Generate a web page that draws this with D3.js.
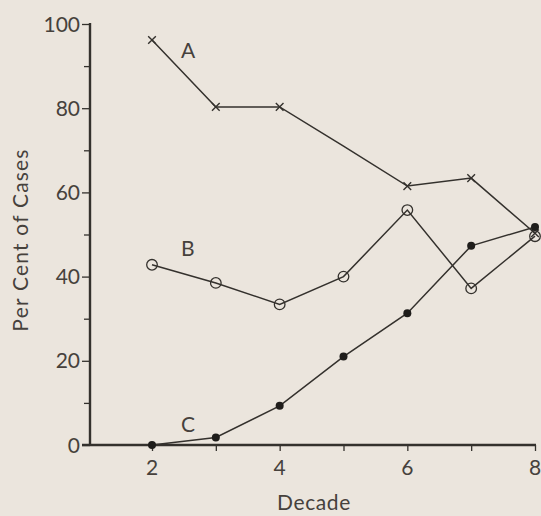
<!DOCTYPE html>
<html lang="en">
<head>
<meta charset="UTF-8">
<title>Per Cent of Cases by Decade</title>
<style>
  html, body { margin: 0; padding: 0; background: #ebe5dd; }
  svg { display: block; }
  text { font-family: "Lato", "DejaVu Sans", sans-serif; fill: #46413c; }
</style>
</head>
<body>
<svg width="541" height="516"></svg>
<script src="https://d3js.org/d3.v7.min.js"></script>
<script>
// decades on the x axis
var decades = [2, 3, 4, 5, 6, 7, 8]
var xTickLabels = [2, 4, 6, 8]
var yTickLabels = [0, 20, 40, 60, 80, 100]

// series values (per cent of cases)
var seriesA = [96.2, 80.3, 80.3, 71, 61.5, 63.4, 50.3]
var seriesB = [42.8, 38.5, 33.4, 40, 55.8, 37.2, 49.6]
var seriesC = [0, 1.8, 9.3, 21, 31.3, 47.3, 51.8]
// A has no mark at decade 5
var markA = [true, true, true, false, true, true, true]
var seriesNames = ['A', 'B', 'C']

var ink = '#34312d'
var svg = d3.select('svg')

var x = d3.scaleLinear().domain([2, 8]).range([152, 535])
var y = d3.scaleLinear().domain([0, 100]).range([445, 24])

// y axis at x=90, left of decade 2
var yAxis = d3.axisLeft(y).tickValues(d3.range(0, 101, 10)).tickSize(8).tickFormat('')
var gy = svg.append('g').attr('transform', 'translate(90,0)').call(yAxis)
gy.select('.domain').remove()
gy.selectAll('.tick line')
    .attr('stroke', ink).attr('stroke-width', 1.3)
    .attr('x2', function(d) { return d % 20 === 0 ? -8 : -6 })
gy.append('line')
    .attr('x1', 0).attr('x2', 0)
    .attr('y1', y(100) - 1).attr('y2', y(0) + 1)
    .attr('stroke', ink).attr('stroke-width', 2.4)

var xAxis = d3.axisBottom(x).tickValues(decades).tickSize(6).tickFormat('')
var gx = svg.append('g').attr('transform', 'translate(0,' + y(0) + ')').call(xAxis)
gx.select('.domain').remove()
gx.selectAll('.tick line').attr('stroke', ink).attr('stroke-width', 1.3)
gx.append('line')
    .attr('x1', 82).attr('x2', x(8) + 1)
    .attr('y1', 0).attr('y2', 0)
    .attr('stroke', ink).attr('stroke-width', 2.4)

// tick labels
svg.append('g').selectAll('text')
    .data(yTickLabels).enter().append('text')
    .attr('x', 80)
    .attr('y', function(d) { return y(d) })
    .attr('dy', '0.36em')
    .attr('text-anchor', 'end')
    .attr('font-size', 21)
    .text(function(d) { return d })

svg.append('g').selectAll('text')
    .data(xTickLabels).enter().append('text')
    .attr('x', function(d) { return x(d) })
    .attr('y', y(0) + 30)
    .attr('text-anchor', 'middle')
    .attr('font-size', 21)
    .text(function(d) { return d })

// axis titles
svg.append('text')
    .attr('x', 314).attr('y', 510)
    .attr('text-anchor', 'middle')
    .attr('font-size', 21)
    .attr('letter-spacing', 0.6)
    .text('Decade')

svg.append('text')
    .attr('transform', 'translate(28,240) rotate(-90)')
    .attr('text-anchor', 'middle')
    .attr('font-size', 21)
    .attr('letter-spacing', 1.2)
    .text('Per Cent of Cases')

// lines
var line = d3.line()
    .x(function(d, i) { return x(decades[i]) })
    .y(function(d) { return y(d) })

var lines = [seriesA, seriesB, seriesC]
svg.append('g').selectAll('path')
    .data(lines).enter().append('path')
    .attr('d', function(d) { return line(d) })
    .attr('fill', 'none')
    .attr('stroke', ink)
    .attr('stroke-width', 1.5)

// markers A: crosses
var crossPts = decades.map(function(d, i) { return { x: d, v: seriesA[i], m: markA[i] } })
    .filter(function(p) { return p.m })
svg.append('g').selectAll('path')
    .data(crossPts).enter().append('path')
    .attr('d', d3.symbol().type(d3.symbolX).size(40))
    .attr('transform', function(p) { return 'translate(' + x(p.x) + ',' + y(p.v) + ')' })
    .attr('fill', 'none')
    .attr('stroke', ink)
    .attr('stroke-width', 1.4)

// markers B: open circles
svg.append('g').selectAll('circle')
    .data(seriesB).enter().append('circle')
    .attr('cx', function(d, i) { return x(decades[i]) })
    .attr('cy', function(d) { return y(d) })
    .attr('r', 5.3)
    .attr('fill', 'none')
    .attr('stroke', ink)
    .attr('stroke-width', 1.3)

// markers C: filled dots
svg.append('g').selectAll('circle')
    .data(seriesC).enter().append('circle')
    .attr('cx', function(d, i) { return x(decades[i]) })
    .attr('cy', function(d) { return y(d) })
    .attr('r', 4)
    .attr('fill', '#1f1d1b')

// series labels, placed just right of the first point of each series
var firstVals = [seriesA[0], seriesB[0], seriesC[0]]
var labelDy = [-2.5, 4, 5]
svg.append('g').selectAll('text')
    .data(seriesNames).enter().append('text')
    .attr('x', x(decades[0]) + 29)
    .attr('y', function(d, i) { return y(firstVals[i] + labelDy[i]) })
    .attr('dy', '0.36em')
    .attr('font-size', 21)
    .text(function(d) { return d })
</script>
</body>
</html>
